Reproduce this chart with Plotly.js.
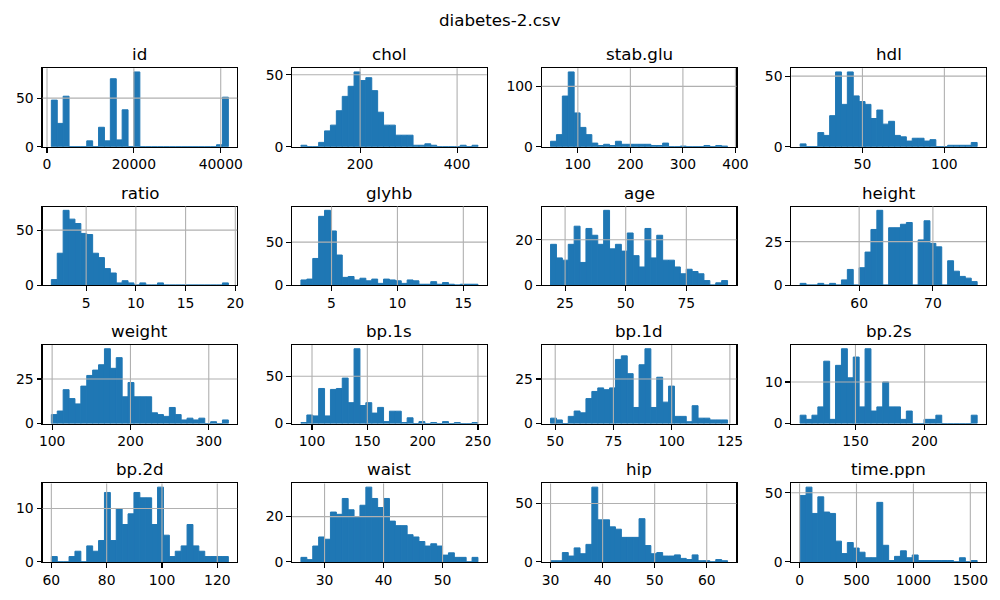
<!DOCTYPE html>
<html>
<head>
<meta charset="utf-8">
<script src="https://cdn.plot.ly/plotly-3.0.1.min.js"></script>
<style>html,body{margin:0;padding:0;background:#fff;}#chart{width:1000px;height:600px;}</style>
</head>
<body>
<div id="chart"></div>
<script>
// ---- Data (30-bin histogram counts) ----
const figTitle = 'diabetes-2.csv';
const titles = ['id','chol','stab.glu','hdl','ratio','glyhb','age','height','weight','bp.1s','bp.1d','bp.2s','bp.2d','waist','hip','time.ppn'];

const idRange = [1000, 41756];
const idCounts = [48,24,52,0,0,0,6,0,20,6,70,7,38,0,77,0,0,0,0,0,0,0,0,0,0,0,0,0,2,51];
const cholRange = [78, 443];
const cholCounts = [1,0,0,3,11,15,25,35,42,52,46,48,39,24,15,15,8,8,8,1,1,2,1,0,0,0,0,1,0,1];
const stabGluRange = [48, 385];
const stabGluCounts = [9,20,84,124,56,32,20,6,2,4,2,9,4,4,4,4,4,2,2,6,0,0,1,0,0,0,2,0,2,1];
const hdlRange = [12, 120];
const hdlCounts = [2,0,0,10,8,22,53,30,53,36,32,30,20,26,16,18,8,7,4,6,6,4,5,0,0,1,1,1,1,3];
const ratioRange = [1.5, 19.3];
const ratioCounts = [5,29,68,60,56,47,46,29,25,15,11,2,4,2,0,2,0,0,2,0,0,0,0,0,0,0,0,0,0,2];
const glyhbRange = [2.68, 16.11];
const glyhbCounts = [6,7,31,80,87,63,35,9,10,6,8,5,7,2,7,6,5,2,6,5,1,1,4,1,3,1,0,1,1,1];
const ageRange = [19, 92];
const ageCounts = [18,12,11,18,26,10,25,22,18,33,16,18,15,23,13,8,25,12,22,11,11,8,5,7,6,5,2,0,1,2];
const heightRange = [52, 76];
const heightCounts = [1,0,0,1,0,1,0,3,9,0,10,19,32,43,0,33,33,35,36,0,26,37,24,22,0,14,8,5,4,2];
const weightRange = [99, 325];
const weightCounts = [5,7,19,14,11,21,27,30,33,42,31,37,15,23,15,15,15,6,5,4,9,5,2,3,2,3,0,1,0,2];
const bp1sRange = [90, 250];
const bp1sCounts = [1,9,8,37,8,36,37,48,22,79,19,22,11,17,2,13,13,1,6,0,2,0,1,0,2,0,1,0,0,1];
const bp1dRange = [48, 124];
const bp1dCounts = [3,2,0,4,7,6,14,18,20,19,20,36,38,28,9,33,42,9,26,12,21,4,4,1,10,3,3,2,2,2];
const bp2sRange = [110, 238];
const bp2sCounts = [2,1,2,4,15,1,14,18,11,16,4,18,3,4,10,4,4,1,3,0,0,1,1,2,0,0,0,0,0,2];
const bp2dRange = [60, 124];
const bp2dCounts = [1,0,0,1,2,0,3,2,4,13,4,10,7,9,13,12,12,7,14,5,1,2,3,7,3,2,1,1,1,1];
const waistRange = [26, 56];
const waistCounts = [2,1,7,11,10,22,21,28,23,20,25,33,28,24,28,18,16,16,12,11,9,7,8,7,3,4,2,2,0,2];
const hipRange = [30, 64];
const hipCounts = [1,1,8,5,12,7,15,64,36,36,30,28,21,21,21,37,14,7,8,5,5,6,3,2,6,1,1,0,2,1];
const timePpnRange = [5, 1560];
const timePpnCounts = [48,54,35,47,36,35,15,6,14,10,7,3,3,43,12,1,4,8,3,5,1,1,1,1,1,1,0,3,0,1];

const xTickSteps = [20000,200,100,50,5,5,25,10,100,50,25,50,20,10,10,500];
const yTickSteps = [50,50,100,50,50,50,20,25,25,50,25,10,10,20,50,50];

// ---- Build figure ----
const allCounts = [idCounts,cholCounts,stabGluCounts,hdlCounts,ratioCounts,glyhbCounts,ageCounts,heightCounts,
  weightCounts,bp1sCounts,bp1dCounts,bp2sCounts,bp2dCounts,waistCounts,hipCounts,timePpnCounts];
const allRanges = [idRange,cholRange,stabGluRange,hdlRange,ratioRange,glyhbRange,ageRange,heightRange,
  weightRange,bp1sRange,bp1dRange,bp2sRange,bp2dRange,waistRange,hipRange,timePpnRange];

const W = 1000, H = 600;
const colLeft0 = 42.5, colStep = 249.6, colWidth = 194.7;
const rowTop0 = 68.2, rowStep = 138.4, rowHeight = 78.5;
const FONT = 'DejaVu Sans';
const BAR = '#1f77b4';

const traces = [], shapes = [], annotations = [];
const layout = {
  width: W, height: H,
  margin: {l:0, r:0, t:0, b:0},
  paper_bgcolor: '#fff', plot_bgcolor: '#fff',
  showlegend: false,
  font: {family: FONT, color: '#000'}
};

function ticksIn(r, step) {
  const out = [];
  for (let k = Math.ceil(r[0]/step - 1e-9); k*step <= r[1] + 1e-9; k++) out.push(k*step);
  return out;
}

for (let i = 0; i < 16; i++) {
  const row = Math.floor(i/4), col = i % 4;
  const sfx = i === 0 ? '' : String(i+1);
  const counts = allCounts[i];
  const lo = allRanges[i][0], hi = allRanges[i][1];
  const n = counts.length;
  const w = (hi - lo) / n;
  const centers = counts.map((_, k) => lo + (k + 0.5) * w);
  traces.push({
    type: 'bar', x: centers, y: counts, width: w,
    xaxis: 'x' + sfx, yaxis: 'y' + sfx,
    marker: {color: BAR, line: {width: 1, color: BAR}},
    hoverinfo: 'skip'
  });
  const span = hi - lo;
  const xr = [lo - 0.05*span, hi + 0.05*span];
  const yr = [0, Math.max(...counts) * 1.05];
  const left = colLeft0 + col*colStep, right = left + colWidth;
  const top = rowTop0 + row*rowStep, bottom = top + rowHeight;
  const common = {
    showline: true, mirror: true, linecolor: '#000', linewidth: 1.1,
    ticks: 'outside', ticklen: 4.9, tickwidth: 1.1, tickcolor: '#000',
    showgrid: false, zeroline: false, fixedrange: true,
    tickfont: {family: FONT, size: 13.9, color: '#000'},
    tickmode: 'linear', tick0: 0, tickformat: 'd'
  };
  layout['xaxis' + sfx] = Object.assign({}, common, {
    domain: [left/W, right/W], range: xr, dtick: xTickSteps[i], anchor: 'y' + sfx
  });
  layout['yaxis' + sfx] = Object.assign({}, common, {
    domain: [1 - bottom/H, 1 - top/H], range: yr, dtick: yTickSteps[i], anchor: 'x' + sfx
  });
  // grid lines drawn above bars (as in matplotlib)
  ticksIn(xr, xTickSteps[i]).forEach(t => {
    shapes.push({type:'line', xref:'x'+sfx, yref:'y'+sfx+' domain', x0:t, x1:t, y0:0, y1:1,
      line:{color:'#b0b0b0', width:1.1}, layer:'above'});
  });
  ticksIn(yr, yTickSteps[i]).filter(t => t > 0).forEach(t => {
    shapes.push({type:'line', xref:'x'+sfx+' domain', yref:'y'+sfx, x0:0, x1:1, y0:t, y1:t,
      line:{color:'#b0b0b0', width:1.1}, layer:'above'});
  });
  annotations.push({
    text: titles[i], xref:'paper', yref:'paper',
    x: (left+right)/2/W, y: 1 - top/H, xanchor:'center', yanchor:'middle', yshift: 14,
    showarrow:false, font:{family:FONT, size:16.7, color:'#000'}
  });
}
annotations.push({
  text: figTitle, xref:'paper', yref:'paper', x:0.5, y:1 - 20/H,
  xanchor:'center', yanchor:'middle', showarrow:false,
  font:{family:FONT, size:16.7, color:'#000'}
});
layout.shapes = shapes;
layout.annotations = annotations;

Plotly.newPlot('chart', traces, layout, {staticPlot: true, displayModeBar: false});
</script>
</body>
</html>
